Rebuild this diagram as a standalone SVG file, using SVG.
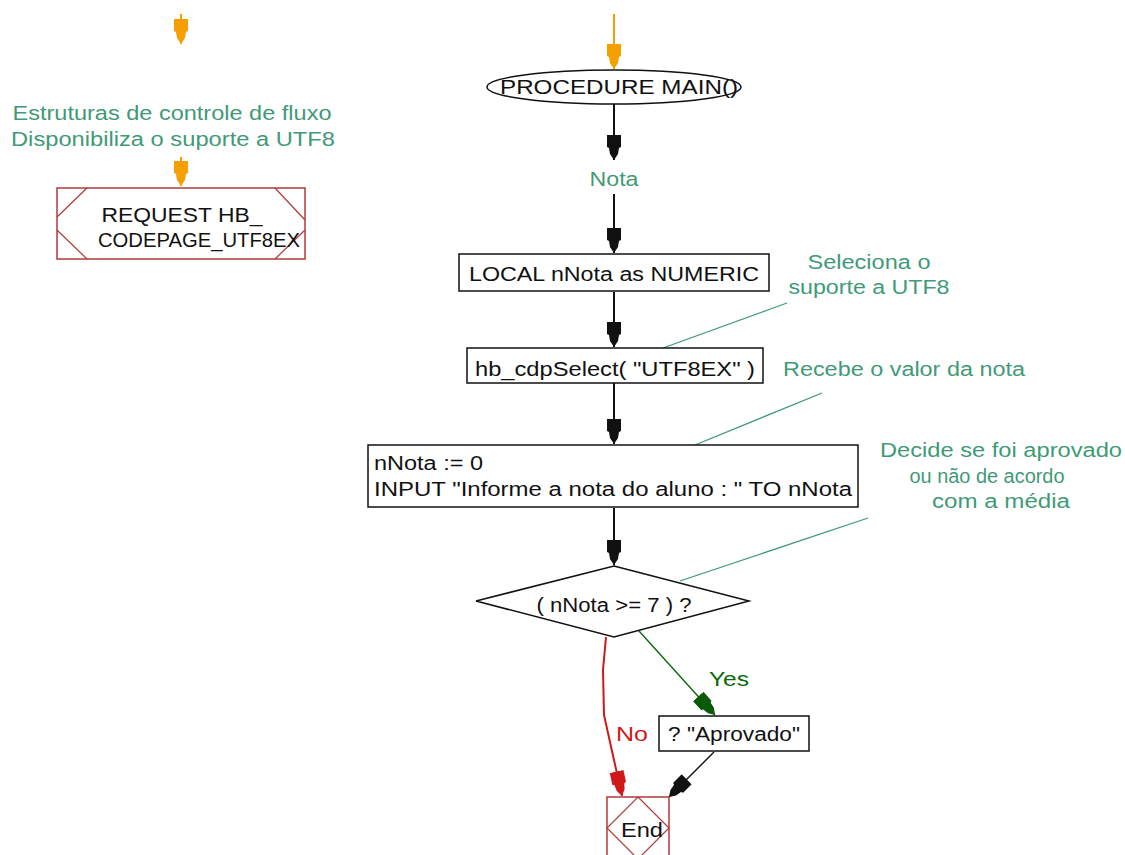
<svg xmlns="http://www.w3.org/2000/svg" width="1125" height="855" viewBox="0 0 1125 855">
  <style>
    text { font-family: "Liberation Sans", Arial, sans-serif; font-size: 20px; }
    .t { fill: #111; }
    .c { fill: #3f9a78; }
    .mid { text-anchor: middle; }
    .box { fill: #fff; stroke: #111; stroke-width: 1.5; }
    .red { fill: #fff; stroke: #b03a3a; stroke-width: 1.5; }
    .redl { fill: none; stroke: #b03a3a; stroke-width: 1.2; }
    .flow { fill: none; stroke: #111; stroke-width: 2; }
    .note { fill: none; stroke: #3f9a78; stroke-width: 1.3; }
  </style>
  <defs>
    <!-- stepped block arrowhead, drawn pointing along +x -->
    <marker id="ah" markerWidth="26" markerHeight="16" refX="25" refY="8" orient="auto" markerUnits="userSpaceOnUse" viewBox="0 0 26 16">
      <path d="M0,1 L12,1 L13,3 L19,4 L25,8 L19,12 L13,13 L12,15 L0,15 Z" fill="#111"/>
    </marker>
    <marker id="ahg" markerWidth="26" markerHeight="16" refX="25" refY="8" orient="auto" markerUnits="userSpaceOnUse" viewBox="0 0 26 16">
      <path d="M0,1 L12,1 L13,3 L19,4 L25,8 L19,12 L13,13 L12,15 L0,15 Z" fill="#0a5a0a"/>
    </marker>
    <marker id="ahr" markerWidth="26" markerHeight="16" refX="25" refY="8" orient="auto" markerUnits="userSpaceOnUse" viewBox="0 0 26 16">
      <path d="M0,1 L12,1 L13,3 L19,4 L25,8 L19,12 L13,13 L12,15 L0,15 Z" fill="#d01818"/>
    </marker>
    <marker id="aho" markerWidth="26" markerHeight="16" refX="25" refY="8" orient="auto" markerUnits="userSpaceOnUse" viewBox="0 0 26 16">
      <path d="M0,1 L12,1 L13,3 L19,4 L25,8 L19,12 L13,13 L12,15 L0,15 Z" fill="#f5a000"/>
    </marker>
  </defs>

  <!-- connectors -->
  <g id="connectors">
    <line x1="181" y1="14" x2="181" y2="44" stroke="#f5a000" stroke-width="2" marker-end="url(#aho)"/>
    <line x1="181" y1="157" x2="181" y2="186" stroke="#f5a000" stroke-width="2" marker-end="url(#aho)"/>
    <line x1="614" y1="14" x2="614" y2="69" stroke="#f5a000" stroke-width="2" marker-end="url(#aho)"/>
    <line class="flow" x1="614" y1="104" x2="614" y2="160" marker-end="url(#ah)"/>
    <line class="flow" x1="614" y1="194" x2="614" y2="253" marker-end="url(#ah)"/>
    <line class="flow" x1="614" y1="292" x2="614" y2="347" marker-end="url(#ah)"/>
    <line class="flow" x1="614" y1="383" x2="614" y2="444" marker-end="url(#ah)"/>
    <line class="flow" x1="614" y1="508" x2="614" y2="565" marker-end="url(#ah)"/>
    <line x1="639" y1="631" x2="715" y2="715" stroke="#0a6a0a" stroke-width="1.4" marker-end="url(#ahg)"/>
    <polyline points="606,637 603,670 604,715 622,796" fill="none" stroke="#d01818" stroke-width="2" marker-end="url(#ahr)"/>
    <line x1="714" y1="752" x2="669" y2="797" stroke="#111" stroke-width="1.4" marker-end="url(#ah)"/>
    <!-- annotation leaders -->
    <line class="note" x1="663" y1="348" x2="787" y2="303"/>
    <line class="note" x1="695" y1="445" x2="822" y2="393"/>
    <line class="note" x1="680" y1="581" x2="868" y2="518"/>
  </g>

  <!-- left branch -->
  <g id="comment-left">
    <text class="c mid" x="172" y="120" textLength="319" lengthAdjust="spacingAndGlyphs">Estruturas de controle de fluxo</text>
    <text class="c mid" x="173" y="146" textLength="324" lengthAdjust="spacingAndGlyphs">Disponibiliza o suporte a UTF8</text>
  </g>
  <g id="request">
    <rect class="red" x="57" y="188" width="248" height="71"/>
    <path class="redl" d="M57,217 L87,188 M57,230 L87,259 M275,188 L305,220 M275,259 L305,230"/>
    <text class="t mid" x="182" y="222" textLength="161" lengthAdjust="spacingAndGlyphs">REQUEST HB_</text>
    <text class="t mid" x="199" y="247" textLength="202" lengthAdjust="spacingAndGlyphs">CODEPAGE_UTF8EX</text>
  </g>

  <!-- main column -->
  <g id="main">
    <ellipse cx="614" cy="87" rx="127" ry="17" fill="#fff" stroke="#111" stroke-width="1.5"/>
    <text class="t mid" x="619" y="94" textLength="238" lengthAdjust="spacingAndGlyphs">PROCEDURE MAIN()</text>
  </g>
  <g id="nota">
    <text class="c mid" x="614" y="186" textLength="49" lengthAdjust="spacingAndGlyphs">Nota</text>
  </g>
  <g id="local">
    <rect class="box" x="459" y="254" width="310" height="37"/>
    <text class="t mid" x="614" y="281" textLength="290" lengthAdjust="spacingAndGlyphs">LOCAL nNota as NUMERIC</text>
  </g>
  <g id="cdpselect">
    <rect class="box" x="467" y="348" width="296" height="35"/>
    <text class="t mid" x="615" y="376" textLength="280" lengthAdjust="spacingAndGlyphs">hb_cdpSelect( "UTF8EX" )</text>
  </g>
  <g id="input">
    <rect class="box" x="368" y="445" width="490" height="62"/>
    <text class="t" x="374" y="470" textLength="109" lengthAdjust="spacingAndGlyphs">nNota := 0</text>
    <text class="t" x="374" y="496" textLength="478" lengthAdjust="spacingAndGlyphs">INPUT "Informe a nota do aluno : " TO nNota</text>
  </g>
  <g id="decision">
    <polygon points="614,566 749,601 614,637 476,601" fill="#fff" stroke="#111" stroke-width="1.5"/>
    <text class="t mid" x="614" y="612" textLength="155" lengthAdjust="spacingAndGlyphs">( nNota &gt;= 7 ) ?</text>
    <text x="729" y="686" class="mid" fill="#0a6a0a" textLength="40" lengthAdjust="spacingAndGlyphs">Yes</text>
    <text x="632" y="741" class="mid" fill="#d01818" textLength="32" lengthAdjust="spacingAndGlyphs">No</text>
  </g>
  <g id="aprovado">
    <rect class="box" x="659" y="716" width="150" height="35"/>
    <text class="t mid" x="734" y="741" textLength="132" lengthAdjust="spacingAndGlyphs">? "Aprovado"</text>
  </g>
  <g id="end">
    <rect class="red" x="607" y="797" width="62" height="70"/>
    <polygon class="redl" points="638,797 669,828 638,859 607,828"/>
    <text class="t mid" x="642" y="837" textLength="42" lengthAdjust="spacingAndGlyphs">End</text>
  </g>

  <!-- comments -->
  <g id="comment-cdp">
    <text class="c mid" x="869" y="269" textLength="123" lengthAdjust="spacingAndGlyphs">Seleciona o</text>
    <text class="c mid" x="869" y="294" textLength="161" lengthAdjust="spacingAndGlyphs">suporte a UTF8</text>
  </g>
  <g id="comment-input">
    <text class="c mid" x="904" y="376" textLength="242" lengthAdjust="spacingAndGlyphs">Recebe o valor da nota</text>
  </g>
  <g id="comment-decision">
    <text class="c mid" x="1001" y="457" textLength="242" lengthAdjust="spacingAndGlyphs">Decide se foi aprovado</text>
    <text class="c mid" x="987" y="483" textLength="155" lengthAdjust="spacingAndGlyphs">ou não de acordo</text>
    <text class="c mid" x="1001" y="508" textLength="138" lengthAdjust="spacingAndGlyphs">com a média</text>
  </g>
</svg>
